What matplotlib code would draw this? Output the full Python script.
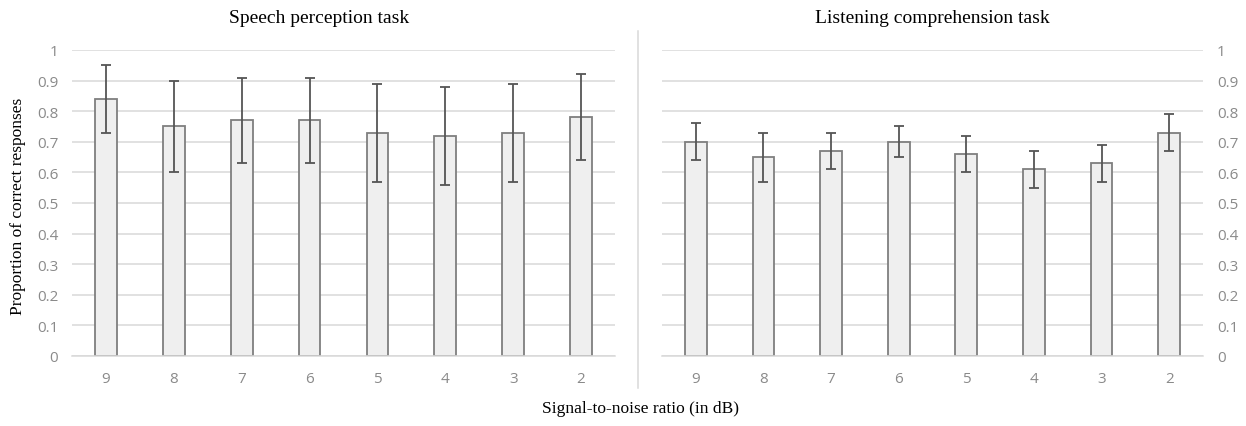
import matplotlib.pyplot as plt
import numpy as np

snr_labels = ["9", "8", "7", "6", "5", "4", "3", "2"]
speech_mean = [0.84, 0.75, 0.77, 0.77, 0.73, 0.72, 0.73, 0.78]
speech_err = [0.11, 0.15, 0.14, 0.14, 0.16, 0.16, 0.16, 0.14]
listen_mean = [0.70, 0.65, 0.67, 0.70, 0.66, 0.61, 0.63, 0.73]
listen_err = [0.06, 0.08, 0.06, 0.05, 0.06, 0.06, 0.06, 0.06]
yticks = [0, 0.1, 0.2, 0.3, 0.4, 0.5, 0.6, 0.7, 0.8, 0.9, 1]
ytick_labels = ["0", "0.1", "0.2", "0.3", "0.4", "0.5", "0.6", "0.7", "0.8", "0.9", "1"]

serif = "Liberation Serif"
sans = "Open Sans"
tick_col = "#8a8a8a"

fig = plt.figure(figsize=(12.46, 4.27), dpi=100)
ax1 = fig.add_axes([0.0578, 0.164, 0.4358, 0.7166])
ax2 = fig.add_axes([0.5313, 0.164, 0.4342, 0.7166])

x = np.arange(len(snr_labels))
for ax, mean, err in [(ax1, speech_mean, speech_err), (ax2, listen_mean, listen_err)]:
    ax.bar(x, mean, width=0.32, color="#efefef", edgecolor="#7f7f7f", linewidth=1.3, zorder=2)
    ax.errorbar(x, mean, yerr=err, fmt="none", ecolor="#555555", elinewidth=1.3,
                capsize=3.5, capthick=1.3, zorder=3)
    ax.set_xlim(-0.5, len(snr_labels) - 0.5)
    ax.set_ylim(0, 1)
    ax.set_yticks(yticks)
    ax.set_yticklabels(ytick_labels, fontfamily=sans, fontsize=11, color=tick_col)
    ax.set_xticks(x)
    ax.set_xticklabels(snr_labels, fontfamily=sans, fontsize=11, color=tick_col)
    ax.grid(axis="y", color="#d9d9d9", linewidth=1.1, zorder=0)
    ax.set_axisbelow(True)
    for s in ["top", "left", "right"]:
        ax.spines[s].set_visible(False)
    ax.spines["bottom"].set_color("#d9d9d9")
    ax.spines["bottom"].set_linewidth(1.1)
    ax.tick_params(length=0)
    ax.tick_params(axis="x", pad=11)
    ax.tick_params(axis="y", pad=10)

ax2.yaxis.tick_right()
ax1.set_title("Speech perception task", fontfamily=serif, fontsize=14, pad=20, x=0.455)
ax2.set_title("Listening comprehension task", fontfamily=serif, fontsize=14, pad=20)

fig.text(0.0145, 0.517, "Proportion of correct responses", fontfamily=serif, fontsize=12.5,
         rotation=90, ha="center", va="center")
fig.text(0.514, 0.033, "Signal-to-noise ratio (in dB)", fontfamily=serif, fontsize=12.5, ha="center")
fig.add_artist(plt.Line2D([0.512, 0.512], [0.09, 0.925], color="#d9d9d9", linewidth=1.1))

fig.savefig("out.png", dpi=100)
